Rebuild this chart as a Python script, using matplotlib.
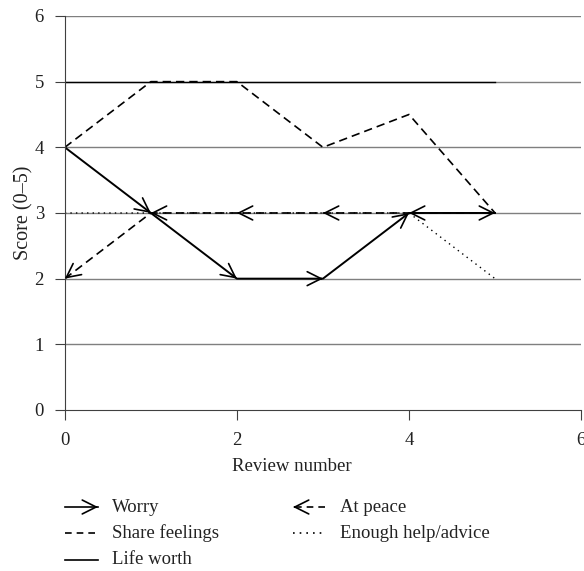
import numpy as np
import matplotlib.pyplot as plt

plt.rcParams['font.family'] = ['Liberation Serif', 'DejaVu Serif']

reviews = [0, 1, 2, 3, 4, 5]
worry = [4, 3, 2, 2, 3, 3]
at_peace = [2, 3, 3, 3, 3, 3]
share_feelings = [4, 5, 5, 4, 4.5, 3]
enough_help = [3, 3, 3, 3, 3, 2]
life_worth = [5, 5, 5, 5, 5, 5]

x_ticks = [0, 2, 4, 6]
y_ticks = [0, 1, 2, 3, 4, 5, 6]

fs = 13.5
txt = '#222222'

fig = plt.figure(figsize=(5.84, 5.71), dpi=100)
ax = fig.add_axes([0.111, 0.282, 0.884, 0.690])

for y in y_ticks[1:]:
    ax.axhline(y, color='#7f7f7f', lw=1.0, zorder=0)

ax.plot(reviews, life_worth, color='black', lw=1.0)
ax.plot(reviews, enough_help, color='black', lw=1.0, ls=(0, (1, 3)))
ax.plot(reviews, share_feelings, color='black', lw=1.2, ls=(0, (5, 3)))
ax.plot(reviews, at_peace, color='black', lw=1.2, ls=(0, (5, 3)))
ax.plot(reviews, worry, color='black', lw=1.4)

head = dict(arrowstyle='->,head_length=1.0,head_width=0.5', color='black',
            lw=1.2, shrinkA=0, shrinkB=0)


def heads(xs, ys):
    for i in range(len(xs) - 1):
        x0, y0, x1, y1 = xs[i], ys[i], xs[i + 1], ys[i + 1]
        ax.annotate('', xy=(x1, y1),
                    xytext=(x0 + 0.97 * (x1 - x0), y0 + 0.97 * (y1 - y0)),
                    arrowprops=head)


heads(reviews, worry)
# at peace drawn backwards, heads point towards earlier reviews
heads(reviews[::-1], at_peace[::-1])

ax.set_xlim(0, 6)
ax.set_ylim(0, 6)
ax.set_xticks(x_ticks)
ax.set_yticks(y_ticks)
ax.spines['top'].set_visible(False)
ax.spines['right'].set_visible(False)
for s in ['left', 'bottom']:
    ax.spines[s].set_color('#404040')
ax.tick_params(direction='out', length=7, color='#404040', labelsize=fs,
               labelcolor=txt)
ax.tick_params(axis='x', pad=9)
ax.tick_params(axis='y', pad=8)
ax.set_xlabel('Review number', fontsize=fs, color=txt)
ax.set_ylabel('Score (0–5)', fontsize=fs + 1, color=txt)
ax.xaxis.set_label_coords(0.44, -0.122)
ax.yaxis.set_label_coords(-0.061, 0.5)

# legend below the axes
def fx(px):
    return px / 584


def fy(py):
    return 1 - py / 571


items = [
    ('Worry', 65, 507, '-', '->'),
    ('Share feelings', 65, 533, (0, (4, 3)), None),
    ('Life worth', 65, 560, '-', None),
    ('At peace', 293, 507, (0, (4, 3)), '<-'),
    ('Enough help/advice', 293, 533, (0, (1, 3)), None),
]
for label, px, py, ls, arr in items:
    if arr == '->':
        fig.add_artist(plt.Line2D([fx(px), fx(px + 33)], [fy(py), fy(py)],
                                  color='black', lw=1.2, ls=ls))
        ax.annotate('', xy=(fx(px + 33), fy(py)), xytext=(fx(px + 30), fy(py)),
                    xycoords='figure fraction', textcoords='figure fraction',
                    arrowprops=head, annotation_clip=False)
    elif arr == '<-':
        fig.add_artist(plt.Line2D([fx(px + 2), fx(px + 35)], [fy(py), fy(py)],
                                  color='black', lw=1.2, ls=ls))
        ax.annotate('', xy=(fx(px), fy(py)), xytext=(fx(px + 3), fy(py)),
                    xycoords='figure fraction', textcoords='figure fraction',
                    arrowprops=head, annotation_clip=False)
    else:
        fig.add_artist(plt.Line2D([fx(px), fx(px + 33)], [fy(py), fy(py)],
                                  color='black', lw=1.2, ls=ls))
    fig.text(fx(px + 47), fy(py), label, fontsize=fs, color=txt,
             va='center', ha='left')

fig.savefig('out.png', dpi=100)
